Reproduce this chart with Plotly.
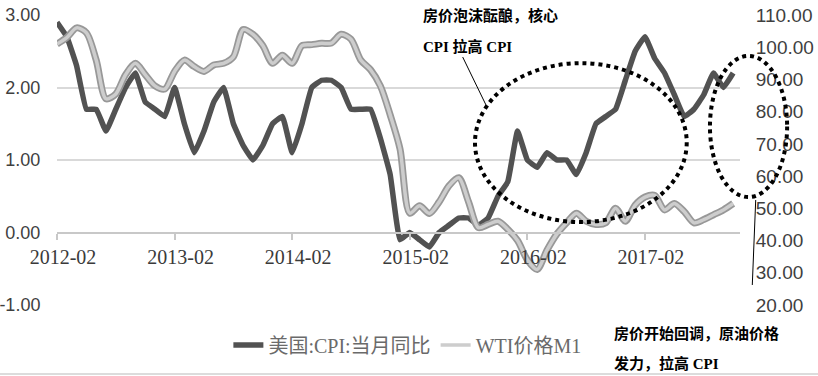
import plotly.graph_objects as go

# ---- data ----
months = [f"{2012 + (1 + i) // 12}-{(1 + i) % 12 + 1:02d}" for i in range(70)]  # 2012-02 .. 2017-11

cpi_yoy = [2.9, 2.7, 2.3, 1.7, 1.7, 1.4, 1.7, 2.0, 2.2, 1.8, 1.7, 1.6,
           2.0, 1.5, 1.1, 1.4, 1.8, 2.0, 1.5, 1.2, 1.0, 1.2, 1.5, 1.6,
           1.1, 1.5, 2.0, 2.1, 2.1, 2.0, 1.7, 1.7, 1.7, 1.3, 0.8, -0.1,
           0.0, -0.1, -0.2, 0.0, 0.1, 0.2, 0.2, 0.1, 0.2, 0.5, 0.7, 1.4,
           1.0, 0.9, 1.1, 1.0, 1.0, 0.8, 1.1, 1.5, 1.6, 1.7, 2.1, 2.5,
           2.7, 2.4, 2.2, 1.9, 1.6, 1.7, 1.9, 2.2, 2.0, 2.2]

wti_m1 = [101.0, 103.0, 106.0, 104.5, 96.0, 84.0, 85.5, 91.5, 95.0, 91.5, 88.0, 87.0,
          92.5, 96.0, 94.0, 92.5, 94.5, 95.0, 97.0, 105.5, 104.0, 100.5, 95.0, 97.5,
          95.0, 100.5, 100.8, 101.2, 101.3, 104.0, 102.5, 96.0, 93.0, 88.0, 79.0, 68.5,
          48.5, 50.8, 48.4, 52.0, 57.0, 59.5, 52.0, 44.0, 45.0, 46.0, 43.5, 40.0,
          34.0, 31.0, 37.0, 42.0, 45.5, 48.5, 46.0, 45.0, 45.5, 50.0, 46.0, 51.0,
          53.5, 54.0, 49.5, 51.5, 49.0, 45.5, 46.5, 48.0, 49.5, 51.5]

x_ticks = ["2012-02", "2013-02", "2014-02", "2015-02", "2016-02", "2017-02"]
left_ticks = [-1, 0, 1, 2, 3]
left_labels = ["-1.00", "0.00", "1.00", "2.00", "3.00"]
right_ticks = [20, 30, 40, 50, 60, 70, 80, 90, 100, 110]
right_labels = ["20.00", "30.00", "40.00", "50.00", "60.00", "70.00", "80.00", "90.00", "100.00", "110.00"]

series_names = ["美国:CPI:当月同比", "WTI价格M1"]
note1 = ["房价泡沫酝酿，核心", "CPI 拉高 CPI"]
note2 = ["房价开始回调，原油价格", "发力，拉高 CPI"]

# ---- figure ----
NUM_FONT = "Liberation Sans, Arial, sans-serif"
SERIF = "Liberation Serif, Noto Sans CJK SC, serif"

fig = go.Figure()

# CPI
fig.add_trace(go.Scatter(x=months, y=cpi_yoy, mode="lines", name=series_names[0],
                         line=dict(color="#525252", width=5.5, shape="spline", smoothing=0.3)))
# WTI outline (under) + core
fig.add_trace(go.Scatter(x=months, y=wti_m1, yaxis="y2", mode="lines",
                         line=dict(color="#989898", width=7, shape="spline", smoothing=0.8),
                         showlegend=False, hoverinfo="skip"))
fig.add_trace(go.Scatter(x=months, y=wti_m1, yaxis="y2", mode="lines", name=series_names[1],
                         line=dict(color="#cdcdcd", width=3.5, shape="spline", smoothing=0.8)))

fig.update_layout(
    width=818, height=376,
    margin=dict(l=57, r=78, t=15, b=71, autoexpand=False),
    paper_bgcolor="white", plot_bgcolor="white",
    showlegend=True,
    legend=dict(orientation="h", x=0.513, xanchor="center", y=-0.138, yanchor="middle",
                font=dict(family=SERIF, size=20, color="#6a6a6a"),
                bgcolor="rgba(0,0,0,0)"),
    xaxis=dict(type="category", categoryorder="array", categoryarray=months,
               range=[0, 69.7], anchor="free", position=0.25, automargin=False,
               showgrid=False, zeroline=False,
               showline=True, linecolor="#c8c8c8", linewidth=2,
               ticks="outside", ticklen=6, tickcolor="#c8c8c8", tickwidth=1.5,
               tickmode="array", tickvals=x_ticks, ticktext=x_ticks,
               tickfont=dict(family=SERIF, size=20, color="#3a3a3a"),
               ticklabelshift=6),
    yaxis=dict(range=[-1, 3], tickmode="array", tickvals=left_ticks, ticktext=left_labels,
               showgrid=True, gridcolor="#d9d9d9", gridwidth=1.5, automargin=False,
               zeroline=False, showline=False,
               ticks="outside", ticklen=12, tickcolor="rgba(0,0,0,0)",
               tickfont=dict(family=NUM_FONT, size=18, color="#3f3f3f")),
    yaxis2=dict(range=[20, 110], overlaying="y", side="right", tickmode="array",
                tickvals=right_ticks, ticktext=right_labels, showgrid=False, zeroline=False,
                automargin=False, showline=False, ticks="outside", ticklen=11,
                tickcolor="rgba(0,0,0,0)",
                tickfont=dict(family=NUM_FONT, size=19, color="#3f3f3f")),
)

# dotted ellipses
fig.add_shape(type="circle", xref="paper", yref="paper", x0=0.612, x1=0.922, y0=0.286, y1=0.834,
              line=dict(color="black", width=4, dash="dot"))
fig.add_shape(type="circle", xref="paper", yref="paper", x0=0.956, x1=1.069, y0=0.372, y1=0.859,
              line=dict(color="black", width=4, dash="dot"))
# leader lines
fig.add_shape(type="line", xref="paper", yref="paper", x0=0.594, y0=0.855, x1=0.628, y1=0.690,
              line=dict(color="black", width=1))
fig.add_shape(type="line", xref="paper", yref="paper", x0=1.018, y0=0.069, x1=1.023, y1=0.362,
              line=dict(color="black", width=1))
# bottom border
fig.add_shape(type="line", xref="paper", yref="paper", x0=-0.2, x1=1.2, y0=-0.238, y1=-0.238,
              line=dict(color="#d0d0d0", width=1.5))

for txt, yy in zip(note1, [1.0, 0.893]):
    fig.add_annotation(text=f"<b>{txt}</b>", xref="paper", yref="paper", x=0.533, y=yy,
                       xanchor="left", yanchor="middle", showarrow=False,
                       font=dict(family=SERIF, size=15, color="black"))
for txt, yy in zip(note2, [-0.0966, -0.2]):
    fig.add_annotation(text=f"<b>{txt}</b>", xref="paper", yref="paper", x=0.8126, y=yy,
                       xanchor="left", yanchor="middle", showarrow=False,
                       font=dict(family=SERIF, size=15, color="black"))

fig.write_html("out.html", config={"displayModeBar": False},
               post_script="document.body.style.margin='0';document.body.style.overflow='hidden';")
